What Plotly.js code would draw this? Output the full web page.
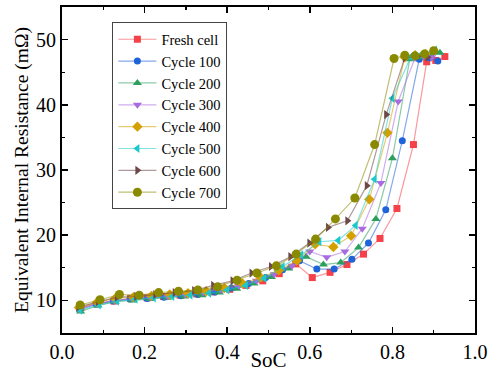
<!DOCTYPE html>
<html>
<head>
<meta charset="utf-8">
<script src="https://cdn.plot.ly/plotly-3.0.1.min.js"></script>
<style>html,body{margin:0;padding:0;background:#fff;}#chart{width:488px;height:372px;}</style>
</head>
<body>
<div id="chart"></div>
<script>
const seriesNames = ["Fresh cell","Cycle 100","Cycle 200","Cycle 300","Cycle 400","Cycle 500","Cycle 600","Cycle 700"];

const freshX = [0.046,0.086,0.126,0.166,0.206,0.246,0.286,0.326,0.366,0.406,0.446,0.486,0.526,0.566,0.606,0.649,0.690,0.730,0.770,0.811,0.851,0.883,0.905,0.927];
const freshY = [8.9,9.5,9.9,10.3,10.4,10.6,10.8,11.0,11.3,11.7,12.3,13.0,14.1,15.6,13.5,14.3,15.5,17.1,19.5,24.1,33.9,46.6,46.8,47.4];

const c100X = [0.042,0.083,0.124,0.165,0.206,0.247,0.288,0.329,0.370,0.411,0.452,0.493,0.534,0.575,0.617,0.659,0.702,0.742,0.784,0.824,0.865,0.888,0.910];
const c100Y = [8.6,9.4,9.9,10.2,10.3,10.5,10.7,10.9,11.3,11.9,12.6,13.5,14.7,16.1,14.8,14.8,16.3,18.8,23.9,34.5,47.0,47.2,46.7];

const c200X = [0.045,0.087,0.129,0.171,0.213,0.255,0.297,0.339,0.381,0.423,0.465,0.507,0.549,0.591,0.633,0.675,0.718,0.760,0.800,0.842,0.868,0.893,0.915];
const c200Y = [8.3,9.2,9.8,10.0,10.2,10.4,10.6,10.8,11.2,11.8,12.6,13.6,14.9,16.7,15.5,15.8,18.1,22.5,31.8,47.0,47.3,47.6,48.0];

const c300X = [0.041,0.084,0.127,0.170,0.213,0.256,0.299,0.342,0.385,0.428,0.471,0.514,0.557,0.600,0.641,0.685,0.727,0.772,0.814,0.855,0.875,0.895];
const c300Y = [8.7,9.5,10.0,10.3,10.5,10.6,10.9,11.2,11.6,12.2,13.0,14.0,15.3,17.5,16.6,17.5,21.0,28.0,40.5,47.2,47.5,47.3];

const c400X = [0.041,0.085,0.129,0.173,0.217,0.261,0.305,0.349,0.393,0.437,0.481,0.525,0.569,0.613,0.657,0.700,0.744,0.788,0.830,0.855,0.880];
const c400Y = [8.9,9.7,10.3,10.5,10.7,10.9,11.1,11.4,11.9,12.6,13.5,14.6,16.1,18.6,18.2,19.9,25.5,35.7,47.3,47.6,47.8];

const c500X = [0.044,0.089,0.133,0.178,0.222,0.267,0.311,0.356,0.400,0.445,0.490,0.534,0.579,0.623,0.669,0.711,0.757,0.800,0.845,0.872,0.903];
const c500Y = [8.5,9.3,9.9,10.2,10.4,10.6,10.8,11.1,11.6,12.3,13.4,15.2,17.0,19.0,19.2,21.5,28.6,41.0,47.4,47.8,48.4];

const c600X = [0.040,0.087,0.133,0.180,0.226,0.273,0.320,0.366,0.413,0.459,0.506,0.553,0.599,0.644,0.691,0.738,0.785,0.830,0.860,0.885];
const c600Y = [9.0,9.8,10.5,10.6,10.9,11.2,11.5,12.3,13.0,14.2,15.2,16.7,18.8,21.2,22.2,27.6,38.5,47.2,47.5,47.3];

const c700X = [0.044,0.092,0.139,0.187,0.234,0.282,0.329,0.377,0.424,0.472,0.519,0.567,0.614,0.662,0.709,0.757,0.804,0.830,0.855,0.878,0.900];
const c700Y = [9.3,10.1,10.9,10.8,11.2,11.4,11.6,12.1,13.1,14.2,15.3,17.1,19.4,22.5,25.7,33.9,47.1,47.6,47.5,47.8,48.3];

const xs = [freshX,c100X,c200X,c300X,c400X,c500X,c600X,c700X];
const ys = [freshY,c100Y,c200Y,c300Y,c400Y,c500Y,c600Y,c700Y];

const markerColors = ["#F5424A","#1F63D8","#2E9E5E","#A86CE0","#D4A000","#1CC8CC","#6E4848","#8A8A00"];
const lineColors = ["rgba(245,66,74,0.55)","rgba(31,99,216,0.55)","rgba(46,158,94,0.55)","rgba(168,108,224,0.55)","rgba(212,160,0,0.55)","rgba(28,200,204,0.55)","rgba(110,72,72,0.55)","rgba(138,138,0,0.55)"];
const symbols = ["square","circle","triangle-up","triangle-down","diamond","triangle-left","triangle-right","circle"];
const sizes = [7,7,8,8,8,8,8,9];

const traces = seriesNames.map((n,i)=>({
  type:'scatter', mode:'lines+markers', name:n,
  x:xs[i], y:ys[i],
  line:{color:lineColors[i], width:1.2},
  marker:{symbol:symbols[i], size:sizes[i], color:markerColors[i], line:{width:0}}
}));

const fontFam = '"Liberation Serif","Times New Roman",serif';
const layout = {
  width:488, height:372,
  margin:{l:62, r:13, t:7, b:39},
  paper_bgcolor:'#fff', plot_bgcolor:'#fff',
  font:{family:fontFam, color:'#000', size:20},
  showlegend:true,
  legend:{x:0.122, y:0.953, xanchor:'left', yanchor:'top', bgcolor:'#fff', bordercolor:'#444', borderwidth:1, itemwidth:38, font:{family:fontFam, size:14.5, color:'#000'}, tracegroupgap:0},
  xaxis:{range:[0,1.0], dtick:0.2, tick0:0, tickformat:'.1f', ticks:'inside', ticklen:6, tickwidth:1.5, tickcolor:'#000',
    showline:true, linecolor:'#000', linewidth:2, mirror:'ticks', showgrid:false, zeroline:false, automargin:false,
    minor:{ticks:'inside', ticklen:3, dtick:0.1, tickcolor:'#000', tickwidth:1.2, showgrid:false},
    tickfont:{family:fontFam, size:20}, title:{text:'SoC', font:{family:fontFam, size:21}, standoff:0}},
  yaxis:{range:[5,55], dtick:10, tick0:0, ticks:'inside', ticklen:6, tickwidth:1.5, tickcolor:'#000',
    showline:true, linecolor:'#000', linewidth:2, mirror:'ticks', showgrid:false, zeroline:false, automargin:false,
    minor:{ticks:'inside', ticklen:3, dtick:5, tickcolor:'#000', tickwidth:1.2, showgrid:false},
    tickfont:{family:fontFam, size:20}, title:{text:'Equivalent Internal Resistance (mΩ)', font:{family:fontFam, size:19.5}, standoff:2}}
};
Plotly.newPlot('chart', traces, layout, {displayModeBar:false, staticPlot:true});
</script>
</body>
</html>
